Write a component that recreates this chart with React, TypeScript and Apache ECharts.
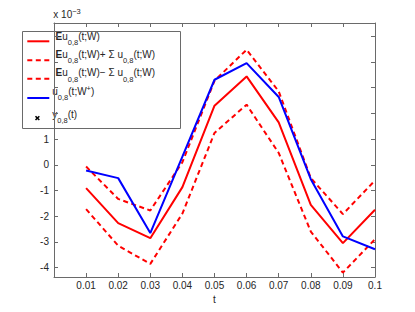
import React, { useEffect, useRef } from "react";
import * as echarts from "echarts";

// t values (x axis)
const tValues = [0.01, 0.02, 0.03, 0.04, 0.05, 0.06, 0.07, 0.08, 0.09, 0.1];
// values in units of 1e-3
const meanValues = [-0.91, -2.27, -2.86, -0.87, 2.3, 3.44, 1.65, -1.56, -3.05, -1.75];
const upperValues = [-0.07, -1.33, -1.78, 0.1, 3.27, 4.48, 2.86, -0.52, -1.92, -0.61];
const lowerValues = [-1.73, -3.15, -3.86, -1.9, 1.24, 2.34, 0.46, -2.6, -4.2, -2.9];
const uValues = [-0.22, -0.52, -2.66, 0.32, 3.31, 3.96, 2.64, -0.56, -2.79, -3.29];
const yObserved: number[] = [];

const yTickValues = [-4, -3, -2, -1, 0, 1, 2, 3, 4, 5];
const yLabelValues = [-4, -3, -2, -1, 0, 1];
const legendNames = [
  "Eu0,8(t;W)",
  "Eu0,8(t;W)+ Σ u0,8(t;W)",
  "Eu0,8(t;W)− Σ u0,8(t;W)",
  "u0,8(t;W+)",
  "y0,8(t)",
];

const FONT = "'Liberation Sans', Arial, Helvetica, sans-serif";
const AXIS_COLOR = "#6a6a6a";
const TEXT_COLOR = "#262626";

const rich = {
  n: { fontSize: 10, lineHeight: 12, padding: [2, 0, 0, 0], verticalAlign: "top", fontFamily: FONT, fill: TEXT_COLOR },
  b: { fontSize: 10, lineHeight: 12, padding: [2, 0, 0, 0], verticalAlign: "top", fontFamily: FONT, fontWeight: "bold", fill: TEXT_COLOR },
  s: { fontSize: 7.5, lineHeight: 8, padding: [9.5, 0, 0, 0], verticalAlign: "top", fontFamily: FONT, fill: TEXT_COLOR },
  p: { fontSize: 7.5, lineHeight: 8, verticalAlign: "top", fontFamily: FONT, fill: TEXT_COLOR },
};

const legendRichTexts = [
  "{b|E}{n|u}{s|0,8}{n|(t;W)}",
  "{b|E}{n|u}{s|0,8}{n|(t;W)+ Σ u}{s|0,8}{n|(t;W)}",
  "{b|E}{n|u}{s|0,8}{n|(t;W)− Σ u}{s|0,8}{n|(t;W)}",
  "{n|u}{s|0,8}{n|(t;W}{p|+}{n|)}",
  "{n|y}{s|0,8}{n|(t)}",
];

export default function App() {
  const ref = useRef<HTMLDivElement>(null);
  useEffect(() => {
    if (!ref.current) return;
    const chart = echarts.init(ref.current, null, { renderer: "svg" });
    const pairs = (vals: number[]) => tValues.map((t, i) => [t, vals[i]]);
    const axisCommon = {
      type: "value" as const,
      axisLine: { show: true, onZero: false, lineStyle: { color: AXIS_COLOR, width: 1 } },
      axisTick: { show: true, inside: true, length: 4, lineStyle: { color: AXIS_COLOR } },
      splitLine: { show: false },
    };
    const lineTops = [29, 47.2, 65.5, 84.2, 107.2];
    const lineYs = [41.3, 60.3, 78.7, 98, 118];
    const textXs = [55.5, 55.5, 55.5, 52.3, 52.3];
    const sampleStyles = [
      { stroke: "#ff0000", lineWidth: 2 },
      { stroke: "#ff0000", lineWidth: 2, lineDash: [5, 3.5] },
      { stroke: "#ff0000", lineWidth: 2, lineDash: [5, 3.5] },
      { stroke: "#0000ff", lineWidth: 2 },
    ];
    const legendChildren: any[] = [
      {
        type: "rect",
        shape: { x: 22.5, y: 31.5, width: 158, height: 97 },
        style: { fill: "#ffffff", stroke: AXIS_COLOR, lineWidth: 1 },
      },
    ];
    sampleStyles.forEach((st, i) => {
      legendChildren.push({
        type: "line",
        shape: { x1: 27.3, y1: lineYs[i], x2: 49.3, y2: lineYs[i] },
        style: st,
      });
    });
    legendChildren.push(
      { type: "line", shape: { x1: 35.5, y1: 116.2, x2: 39.3, y2: 120 }, style: { stroke: "#000", lineWidth: 1.6 } },
      { type: "line", shape: { x1: 35.5, y1: 120, x2: 39.3, y2: 116.2 }, style: { stroke: "#000", lineWidth: 1.6 } }
    );
    legendRichTexts.forEach((txt, i) => {
      legendChildren.push({
        type: "text",
        x: textXs[i],
        y: lineTops[i],
        style: { text: txt, rich, verticalAlign: "top", align: "left", fill: TEXT_COLOR, font: `10px ${FONT}` },
      });
    });

    chart.setOption({
      animation: false,
      backgroundColor: "#ffffff",
      grid: { left: 54, right: 40, top: 23, bottom: 35, containLabel: false },
      xAxis: [
        {
          ...axisCommon,
          position: "bottom",
          min: 0,
          max: 0.1,
          interval: 0.01,
          name: "t",
          nameLocation: "middle",
          nameGap: 14,
          nameTextStyle: { color: TEXT_COLOR, fontFamily: FONT, fontSize: 10 },
          axisLabel: {
            show: true,
            margin: 3,
            color: TEXT_COLOR,
            fontFamily: FONT,
            fontSize: 10,
            formatter: (v: number) => (Math.abs(v) < 1e-9 ? "" : String(Number(v.toFixed(2)))),
          },
        },
        {
          ...axisCommon,
          position: "top",
          min: 0,
          max: 0.1,
          interval: 0.01,
          axisLabel: { show: false },
        },
      ],
      yAxis: [
        {
          ...axisCommon,
          position: "left",
          min: -4.37,
          max: 5.52,
          axisTick: { ...axisCommon.axisTick, customValues: yTickValues },
          axisLabel: {
            show: true,
            margin: 5,
            color: TEXT_COLOR,
            fontFamily: FONT,
            fontSize: 10,
            customValues: yLabelValues,
            formatter: (v: number) => String(v),
          },
        },
        {
          ...axisCommon,
          position: "right",
          min: -4.37,
          max: 5.52,
          axisTick: { ...axisCommon.axisTick, customValues: yTickValues },
          axisLabel: { show: false },
        },
      ],
      series: [
        {
          name: legendNames[0],
          type: "line",
          data: pairs(meanValues),
          symbol: "none",
          lineStyle: { color: "#ff0000", width: 2 },
          z: 2,
        },
        {
          name: legendNames[1],
          type: "line",
          data: pairs(upperValues),
          symbol: "none",
          lineStyle: { color: "#ff0000", width: 2, type: [5, 3.5] },
          z: 2,
        },
        {
          name: legendNames[2],
          type: "line",
          data: pairs(lowerValues),
          symbol: "none",
          lineStyle: { color: "#ff0000", width: 2, type: [5, 3.5] },
          z: 2,
        },
        {
          name: legendNames[3],
          type: "line",
          data: pairs(uValues),
          symbol: "none",
          lineStyle: { color: "#0000ff", width: 2 },
          z: 3,
        },
        {
          name: legendNames[4],
          type: "scatter",
          data: yObserved.map((v, i) => [tValues[i], v]),
          symbol: "path://M0,0L10,10M10,0L0,10",
          symbolSize: 5,
          itemStyle: { color: "none", borderColor: "#000", borderWidth: 1.6 },
        },
      ],
      graphic: [
        {
          type: "text",
          x: 53.3,
          y: 7.5,
          z: 100,
          style: { text: "{n|x 10}{p|−3}", rich, verticalAlign: "top", align: "left", fill: TEXT_COLOR, font: `10px ${FONT}` },
        },
        {
          type: "group",
          z: 100,
          children: legendChildren,
        },
      ],
    });
    return () => chart.dispose();
  }, []);
  return (
    <div
      ref={ref}
      style={{ position: "absolute", left: 0, top: 0, width: 415, height: 312 }}
    />
  );
}
